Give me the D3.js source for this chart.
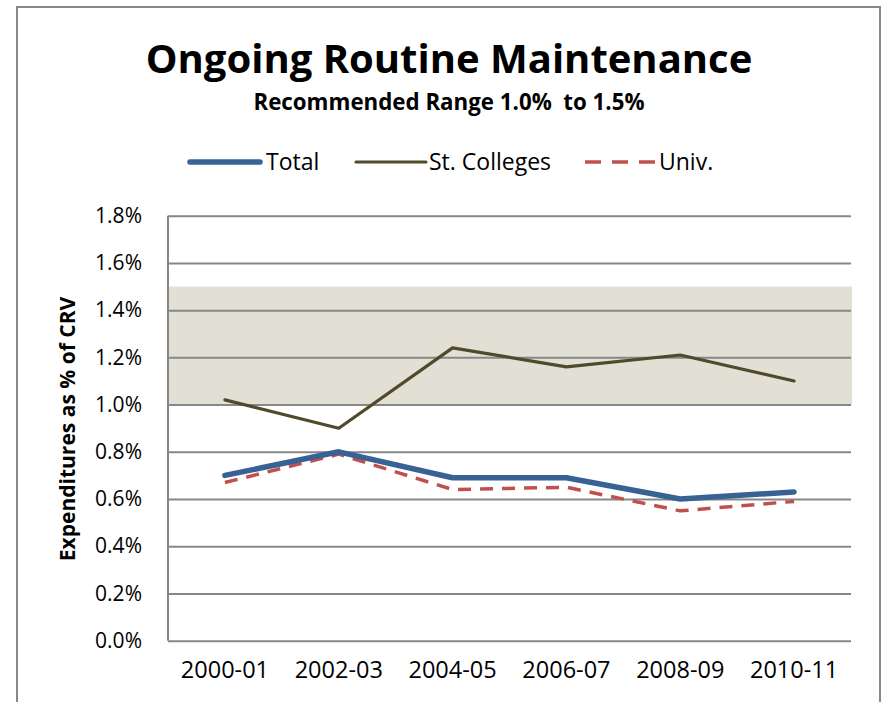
<!DOCTYPE html>
<html>
<head>
<meta charset="utf-8">
<script src="https://cdn.jsdelivr.net/npm/d3@7"></script>
<style>
body { margin: 0; background: #fff; }
text { font-family: "Open Sans", sans-serif; }
</style>
</head>
<body>
<script>
var w = 884;
var h = 702;

// data
var years = ["2000-01", "2002-03", "2004-05", "2006-07", "2008-09", "2010-11"];
var total = [0.0070, 0.0080, 0.0069, 0.0069, 0.0060, 0.0063];
var colleges = [0.0102, 0.0090, 0.0124, 0.0116, 0.0121, 0.0110];
var univ = [0.0067, 0.0079, 0.0064, 0.0065, 0.0055, 0.0059];
var rangeLow = 0.010, rangeHigh = 0.015;
var yTicks = [0, 0.002, 0.004, 0.006, 0.008, 0.010, 0.012, 0.014, 0.016, 0.018];

var series = [
  {name: "Total", values: total, color: "#386194", width: 5.5, dash: null, legendDash: null},
  {name: "St. Colleges", values: colleges, color: "#4f4a2b", width: 3.2, dash: null, legendDash: null},
  {name: "Univ.", values: univ, color: "#c0504d", width: 3.5, dash: "13,9", legendDash: "16,11"}
];

var plot = {left: 168, right: 851, top: 215.7, bottom: 640.7};

var xScale = d3.scaleBand()
    .domain(years)
    .range([plot.left, plot.right]);

var yScale = d3.scaleLinear()
    .domain([0, 0.018])
    .range([plot.bottom, plot.top]);

var svg = d3.select("body")
    .append("svg")
    .attr("width", w)
    .attr("height", h);

// outer frame
svg.append("rect")
    .attr("x", 17).attr("y", 7)
    .attr("width", 863).attr("height", 720)
    .attr("fill", "none")
    .attr("stroke", "#888")
    .attr("stroke-width", 2);

// title
svg.append("text")
    .attr("x", 449).attr("y", 73)
    .attr("text-anchor", "middle")
    .style("font-size", "40px")
    .style("font-weight", "bold")
    .text("Ongoing Routine Maintenance");

svg.append("text")
    .attr("x", 449).attr("y", 110)
    .attr("text-anchor", "middle")
    .style("font-size", "22.3px")
    .style("font-weight", "bold")
    .style("white-space", "pre")
    .text("Recommended Range 1.0%  to 1.5%");

// recommended band
svg.append("rect")
    .attr("x", plot.left)
    .attr("y", yScale(rangeHigh))
    .attr("width", plot.right - plot.left + 1)
    .attr("height", yScale(rangeLow) - yScale(rangeHigh))
    .attr("fill", "#e2e0d5");

// gridlines
var yAxis = d3.axisLeft(yScale)
    .tickValues(yTicks)
    .tickSize(-(plot.right - plot.left))
    .tickFormat(d3.format(".1%"))
    .tickPadding(26);

var gy = svg.append("g")
    .attr("class", "axis")
    .attr("transform", "translate(" + plot.left + ",0)")
    .call(yAxis);
gy.select(".domain").remove();
gy.selectAll("line").attr("stroke", "#878787").attr("stroke-width", 2);
gy.selectAll("text")
    .attr("fill", "#000")
    .style("font-size", "21px");

// left axis line
svg.append("line")
    .attr("x1", plot.left).attr("x2", plot.left)
    .attr("y1", plot.top).attr("y2", plot.bottom)
    .attr("stroke", "#878787").attr("stroke-width", 2);

// x axis
var xAxis = d3.axisBottom(xScale).tickSize(0).tickPadding(21);
var gx = svg.append("g")
    .attr("class", "axis")
    .attr("transform", "translate(0," + plot.bottom + ")")
    .call(xAxis);
gx.select(".domain").remove();
gx.selectAll("text")
    .attr("fill", "#000")
    .style("font-size", "23.5px");

// y axis title
svg.append("text")
    .attr("transform", "translate(75,429) rotate(-90)")
    .attr("text-anchor", "middle")
    .style("font-size", "21px")
    .style("font-weight", "bold")
    .text("Expenditures as % of CRV");

// lines
var line = d3.line()
    .x(function(d, i) { return xScale(years[i]) + xScale.bandwidth() / 2; })
    .y(function(d) { return yScale(d); });

series.slice().reverse().forEach(function(s) {
  svg.append("path")
      .datum(s.values)
      .attr("d", line)
      .attr("fill", "none")
      .attr("stroke", s.color)
      .attr("stroke-width", s.width)
      .attr("stroke-linejoin", "round")
      .attr("stroke-linecap", s.dash ? "butt" : "round")
      .attr("stroke-dasharray", s.dash);
});

// legend
var legendPos = [{x: 190, tx: 266}, {x: 356, tx: 429}, {x: 585, tx: 659}];
series.forEach(function(s, i) {
  var p = legendPos[i];
  svg.append("line")
      .attr("x1", p.x).attr("x2", p.x + 70)
      .attr("y1", 162).attr("y2", 162)
      .attr("stroke", s.color)
      .attr("stroke-width", s.width)
      .attr("stroke-linecap", s.dash ? "butt" : "round")
      .attr("stroke-dasharray", s.legendDash);
  svg.append("text")
      .attr("x", p.tx).attr("y", 170)
      .style("font-size", "23px")
      .text(s.name);
});
</script>
</body>
</html>
